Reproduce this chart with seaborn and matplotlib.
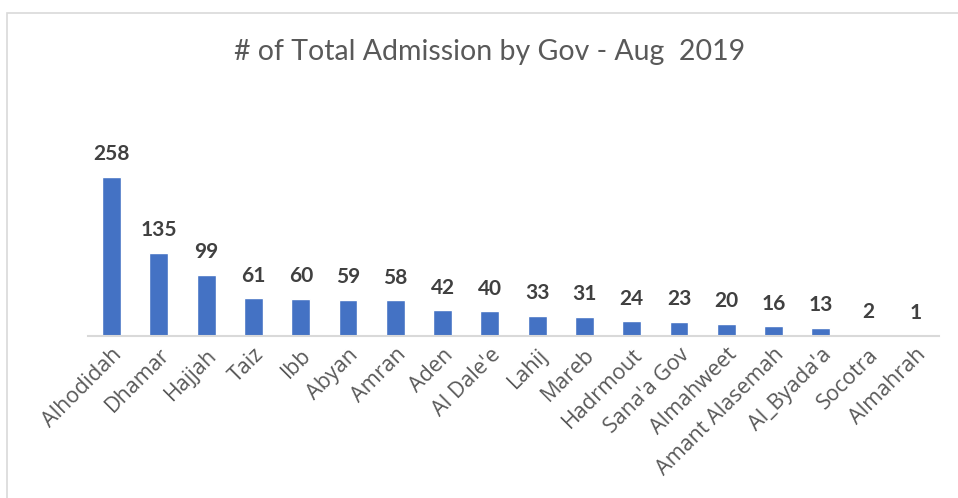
import matplotlib
matplotlib.use("Agg")
import matplotlib.pyplot as plt
import seaborn as sns
import pandas as pd
from matplotlib.patches import Rectangle

govs = ["Alhodidah", "Dhamar", "Hajjah", "Taiz", "Ibb", "Abyan", "Amran", "Aden",
        "Al Dale'e", "Lahij", "Mareb", "Hadrmout", "Sana'a Gov", "Almahweet",
        "Amant Alasemah", "Al_Byada'a", "Socotra", "Almahrah"]
admissions = [258, 135, 99, 61, 60, 59, 58, 42, 40, 33, 31, 24, 23, 20, 16, 13, 2, 1]
title = "# of Total Admission by Gov - Aug  2019"

df = pd.DataFrame({"gov": govs, "n": admissions})

sns.set_theme(style="white")
plt.rcParams["font.family"] = ["Lato", "DejaVu Sans"]

fig = plt.figure(figsize=(9.58, 4.98), dpi=100)
ax = fig.add_axes([88/958, 162/498, 851/958, 216/498])

sns.barplot(data=df, x="gov", y="n", color="#4472C4", width=0.4, saturation=1, ax=ax)

ax.set_ylim(0, 350)
ax.set_xlim(-0.5, len(govs) - 0.5)
ax.set_xlabel("")
ax.set_ylabel("")
ax.set_yticks([])
for s in ["top", "right", "left"]:
    ax.spines[s].set_visible(False)
ax.spines["bottom"].set_color("#D9D9D9")
ax.spines["bottom"].set_linewidth(1.5)

ax.tick_params(axis="x", length=0, pad=6)
plt.setp(ax.get_xticklabels(), rotation=45, ha="right", rotation_mode="anchor",
         fontsize=15.5, color="#595959", family=["Open Sans", "DejaVu Sans"])

for c in ax.containers:
    ax.bar_label(c, labels=[str(v) for v in admissions], padding=9,
                 fontsize=15, fontweight="bold", color="#404040")

fig.text(490/958, 1 - 52/498, title, ha="center", va="center",
         fontsize=20.5, color="#595959")

fig.patches.append(Rectangle((7/958, -0.1), 1.2, 1 - 13/498 + 0.1,
                             transform=fig.transFigure, fill=False,
                             edgecolor="#D9D9D9", linewidth=1.2))

fig.savefig("out.png", dpi=100)
